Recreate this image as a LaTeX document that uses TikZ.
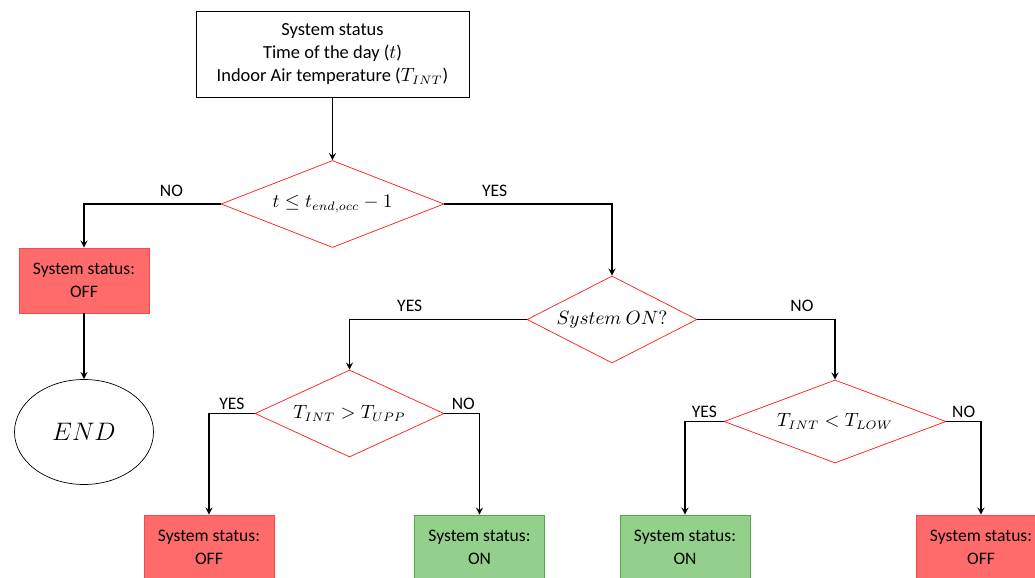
\documentclass[tikz,border=0pt]{standalone}
\usepackage{fontspec}
\setmainfont{Carlito}
\usetikzlibrary{shapes.geometric, arrows}
\definecolor{offred}{RGB}{255,107,107}
\definecolor{offline}{RGB}{255,70,70}
\definecolor{ongreen}{RGB}{147,208,139}
\definecolor{online}{RGB}{84,165,72}
\definecolor{diared}{RGB}{255,25,25}
\tikzstyle{general} = [rectangle, minimum width=5.46cm, minimum height=1.72cm, text centered, draw=black]
\tikzstyle{decision} = [diamond, aspect=2.5, inner sep=0pt, text centered, draw=diared]
\tikzstyle{statoff} = [rectangle, minimum width=2.6cm, minimum height=1.3cm, text centered, draw=offline, fill=offred, font=\fontsize{10}{13}\selectfont]
\tikzstyle{staton} = [rectangle, minimum width=2.6cm, minimum height=1.3cm, text centered, draw=online, fill=ongreen, font=\fontsize{10}{13}\selectfont]
\tikzstyle{terminal} = [ellipse, minimum width=2.78cm, minimum height=2.1cm, draw=black]
\tikzstyle{arrow} = [thick,->,>=stealth]
\tikzstyle{answer} = [above, inner sep=2pt, font=\fontsize{10}{12}\selectfont]

\begin{document}
\begin{tikzpicture}
[node distance=3cm, nodes = {align = center, font=\fontsize{10.5}{13}\selectfont},]
\useasboundingbox (0,0) rectangle (20.7,-11.56);

\node (input) [general] at (6.65,-1.08) {System status\\Time of the day ($t$)\\Indoor Air temperature ($T_{INT}$)};
\node (check) [decision, below of = input, minimum width=4.46cm, minimum height=1.74cm] {$t \leq t_{end,occ} - 1$};
\node (off1) [statoff, left of = check, xshift = -1.97cm, yshift = -1.53cm] {System status:\\OFF};
\node (end) [terminal, below of = off1, yshift = -0.03cm, font=\Large] {$END$};
\node (sys) [decision, right of = check, xshift = 2.59cm, yshift = -2.31cm, minimum width=3.4cm, minimum height=1.74cm] {$System\ ON?$};
\node (upp) [decision, left of = sys, xshift = -2.25cm, yshift = -1.88cm, minimum width=3.78cm, minimum height=1.74cm] {$T_{INT} > T_{UPP}$};
\node (low) [decision, right of = sys, xshift = 1.46cm, yshift = -2.04cm, minimum width=4.44cm, minimum height=1.66cm] {$T_{INT} < T_{LOW}$};
\node (off2) [statoff, below of = upp, xshift = -2.81cm, yshift = 0.32cm] {System status:\\OFF};
\node (on1) [staton, below of = upp, xshift = 2.6cm, yshift = 0.32cm] {System status:\\ON};
\node (on2) [staton, below of = low, xshift = -3.0cm, yshift = 0.48cm] {System status:\\ON};
\node (off3) [statoff, below of = low, xshift = 2.92cm, yshift = 0.48cm] {System status:\\OFF};

\draw [arrow] (input) -- (check);
\draw [arrow] (check.west) -| node[answer, pos=0.18, yshift=2pt] {NO} (off1);
\draw [arrow] (check.east) -| node[answer, pos=0.15, yshift=2pt] {YES} (sys);
\draw [arrow] (off1) -- (end);
\draw [arrow] (sys.west) -| node[answer, pos=0.33, yshift=2pt] {YES} (upp);
\draw [arrow] (sys.east) -| node[answer, pos=0.38, yshift=2pt] {NO} (low);
\draw [arrow] (upp.west) -| node[answer, pos=0.25] {YES} (off2);
\draw [arrow] (upp.east) -| node[answer, pos=0.27] {NO} (on1);
\draw [arrow] (low.west) -| node[answer, pos=0.25] {YES} (on2);
\draw [arrow] (low.east) -| node[answer, pos=0.25] {NO} (off3);
\end{tikzpicture}
\end{document}
